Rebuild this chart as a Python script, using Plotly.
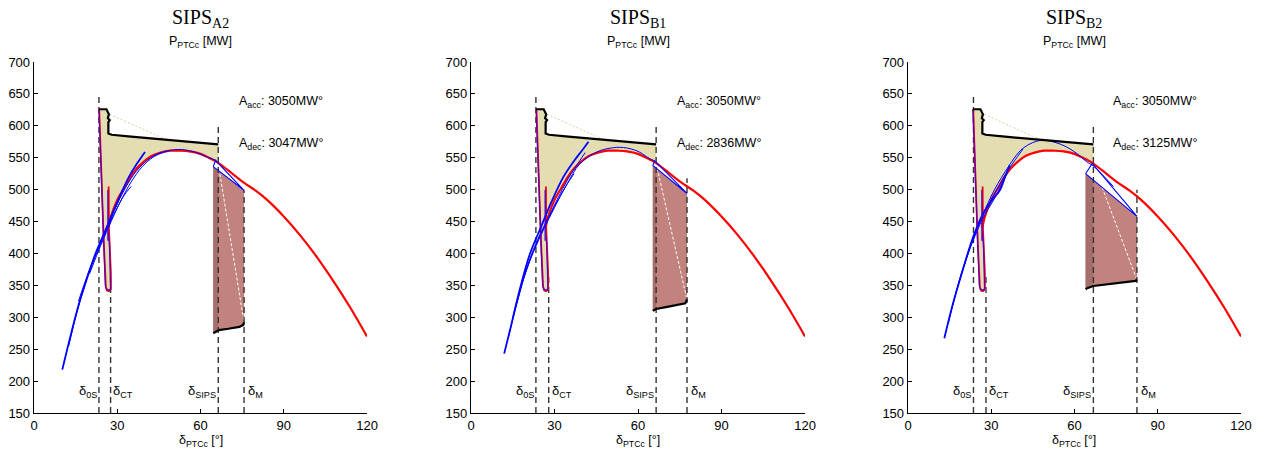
import numpy as np
import plotly.graph_objects as go

# ---------------- data ----------------
X_TICKS = [0, 30, 60, 90, 120]
Y_TICKS = [150, 200, 250, 300, 350, 400, 450, 500, 550, 600, 650, 700]

PANEL_NAMES = ["A2", "B1", "B2"]
A_ACC = [3050, 3050, 3050]
A_DEC = [3047, 2836, 3125]

D_0S = [23.4, 23.3, 23.6]
D_CT = [27.6, 27.9, 28.1]
D_SIPS = [66.4, 66.5, 66.8]
D_M = [75.7, 77.6, 82.5]
TOP_0S = [648, 648, 648]
TOP_CT = [366, 366, 366]
TOP_SIPS = [598, 598, 598]
TOP_M = [499, 518, 500]

# post-fault P-delta curve (same in every panel)
RED_D = [26.8, 27.6, 30, 32.5, 34.8, 37, 39.6, 42.5, 45.6, 49, 52.5, 56, 60, 63,
         66.4, 70, 75.6, 80, 84, 90, 96, 102, 108, 114, 120]
RED_P = [440, 456, 484, 503, 520, 533, 544, 553, 558, 561, 561, 560, 556, 550,
         542, 530, 511, 498, 484, 458, 428, 394, 356, 315, 270]

# fault-on trajectory
FAULT_RED_D = [23.5, 24.3, 25.1, 25.9, 26.3, 27.0, 27.7, 27.7, 27.4, 27.0, 26.9, 26.9, 26.9]
FAULT_RED_P = [626, 520, 420, 348, 342, 341, 344, 370, 410, 440, 505, 470, 440]
FAULT_BLUE_D = [23.4, 24.2, 25.0, 25.7, 26.1, 27.3, 27.6, 27.5, 27.2, 26.7, 26.6, 26.6]
FAULT_BLUE_P = [626, 520, 420, 350, 344, 342, 346, 375, 415, 435, 500, 420]
SLIVER_D = [27.3, 27.6, 27.6, 27.0, 26.2, 25.8, 25.0, 24.2, 23.4]
SLIVER_P = [410, 370, 344, 341, 342, 348, 420, 520, 626]

# mechanical power line (top of accelerating area)
PM_D = [23.4, 26.1, 27.0, 26.6, 27.3, 26.8, 26.8, 28.0, 35, 45, 55]
PM_P = [626, 626, 618, 612, 609, 606, 588, 586, 583, 579, 575]
PM_END = [571, 571, 571]
DOT_START_D = [27.3, 27.3, 27.5]
DOT_START_P = [618, 618, 618]

# decelerating area
BROWN_TOP_D = [[64.6, 75.7], [65.3, 77.6], [64.0, 82.5]]
BROWN_TOP_P = [[536, 499], [538, 494], [525, 458]]
BOTTOM_D = [[64.6, 65.5, 66.6, 70, 74, 75.4, 75.7],
            [65.3, 66.5, 70, 74, 77, 77.6],
            [64.0, 64.8, 66.8, 72, 78, 82, 82.5]]
BOTTOM_P = [[275, 277, 280, 282, 285, 288, 292],
            [310, 313, 316, 319, 322, 328],
            [344, 346, 349, 352, 355, 357, 359]]
WHITE_D = [[66.4, 75.7], [66.5, 77.6], [66.8, 82.3]]
WHITE_P = [[540, 292], [541, 327], [540, 361]]
WEDGE_D = [[64.6, 75.7, 65.4, 64.6], [65.3, 77.6, 66.0, 65.3], [64.0, 82.5, 66.4, 64.0]]
WEDGE_P = [[536, 499, 546, 536], [538, 494, 545, 538], [525, 458, 541, 525]]

# post-fault swings (blue)
BLUE_D = [
    [[10.2, 13, 16, 18.6, 22, 25.8, 30, 34.2, 37, 40],
     [12.5, 15, 19, 23, 27, 31, 35, 39, 43, 47, 52, 57, 62, 65.4],
     [16, 20, 24, 28, 32, 36, 40, 44, 48],
     [20, 24, 28, 32, 35]],
    [[11.9, 14, 17, 21.2, 25, 29, 33.2, 37, 40, 42.2],
     [13.5, 17, 21, 25, 29, 34, 39.2, 45.2, 50, 54.8, 60, 64, 66.0],
     [15, 19, 23, 27, 31, 35, 39, 41],
     [18, 22, 26, 30, 34, 37]],
    [[13.1, 16, 20, 23.5, 27, 30, 33.1, 35, 36.6],
     [14.5, 18, 22, 26, 30, 35, 41.5, 48.1, 53, 57.1, 61, 64.3, 66.8, 74],
     [16, 20, 24, 28, 32, 36, 39.5, 41.5],
     [19, 23, 27, 31, 34.5]],
]
BLUE_P = [
    [[218, 268, 318, 354, 398, 437, 480, 520, 540, 559],
     [255, 300, 360, 405, 445, 480, 512, 536, 551, 559, 563, 560, 552, 546],
     [325, 375, 418, 458, 495, 524, 543, 555, 561],
     [368, 412, 452, 488, 505]],
    [[243, 280, 335, 400, 440, 482, 520, 545, 562, 575],
     [270, 330, 390, 432, 466, 505, 541, 559, 565, 566, 560, 549, 545],
     [300, 362, 410, 448, 485, 518, 545, 558],
     [350, 398, 437, 472, 505, 525]],
    [[267, 318, 378, 426, 462, 482, 499, 520, 538],
     [290, 350, 405, 450, 490, 528, 565, 577.5, 574, 567, 556, 544, 537, 505],
     [318, 378, 430, 468, 500, 530, 552, 564],
     [365, 415, 455, 485, 515]],
]

# ---------------- figure ----------------
YELLOW = "#e3ddb1"
BROWN = "#c2827e"
DARKBROWN = "#a66e6c"
FONT = "Liberation Sans, Arial, sans-serif"

DOMAINS = [[0.0, 0.2759], [0.3621, 0.6388], [0.7241, 1.0]]

fig = go.Figure()
red_d = np.array(RED_D, dtype=float)
red_p = np.array(RED_P, dtype=float)

for i in range(3):
    xa = "x" if i == 0 else f"x{i+1}"
    ya = "y" if i == 0 else f"y{i+1}"
    ds = D_SIPS[i]
    red_at_sips = float(np.interp(ds, red_d, red_p))

    def add(x, y, **kw):
        fig.add_trace(go.Scatter(x=x, y=y, xaxis=xa, yaxis=ya, showlegend=False,
                                 hoverinfo="skip", **kw))

    # yellow accelerating area
    pm_d = PM_D + [ds]
    pm_p = PM_P + [PM_END[i]]
    mask = (red_d >= 26.8) & (red_d < ds)
    poly_d = pm_d + [ds] + list(red_d[mask][::-1]) + SLIVER_D
    poly_p = pm_p + [red_at_sips] + list(red_p[mask][::-1]) + SLIVER_P
    add(poly_d, poly_p, mode="lines", fill="toself", fillcolor=YELLOW,
        line=dict(width=0, color=YELLOW))

    # brown decelerating area
    td, tp = BROWN_TOP_D[i], BROWN_TOP_P[i]
    bd, bp = BOTTOM_D[i], BOTTOM_P[i]
    add(td + bd[::-1] + [td[0]], tp + bp[::-1] + [tp[0]], mode="lines",
        fill="toself", fillcolor=BROWN, line=dict(width=0, color=BROWN))
    top_s = float(np.interp(ds, td, tp))
    bot_s = float(np.interp(ds, bd, bp))
    add([td[0], ds, ds, bd[0], td[0]], [tp[0], top_s, bot_s, bp[0], tp[0]],
        mode="lines", fill="toself", fillcolor=DARKBROWN,
        line=dict(width=0, color=DARKBROWN))

    # white diagonal and light dotted line
    add(WHITE_D[i], WHITE_P[i], mode="lines",
        line=dict(color="white", width=1, dash="3px,2px"))
    add([DOT_START_D[i], ds], [DOT_START_P[i], red_at_sips], mode="lines",
        line=dict(color="#d8cf9c", width=1, dash="2px,2px"))

    # dashed markers of critical angles
    for dv, top in ((D_0S[i], TOP_0S[i]), (D_CT[i], TOP_CT[i]),
                    (D_SIPS[i], TOP_SIPS[i]), (D_M[i], TOP_M[i])):
        add([dv, dv], [150, top], mode="lines",
            line=dict(color="#333333", width=1.4, dash="6px,4px"))

    # red curves
    add(RED_D, RED_P, mode="lines", line=dict(color="#ff0000", width=2.2, shape="spline"))
    add(FAULT_RED_D, FAULT_RED_P, mode="lines", line=dict(color="#ff0000", width=1.8))

    # blue swings
    for k, (bdd, bpp) in enumerate(zip(BLUE_D[i], BLUE_P[i])):
        add(bdd, bpp, mode="lines",
            line=dict(color="#0000ff", width=1.8 if k == 0 else 1.0, shape="spline"))
    add(FAULT_BLUE_D, FAULT_BLUE_P, mode="lines",
        line=dict(color="rgba(60,0,220,0.85)", width=1.3))
    add(WEDGE_D[i], WEDGE_P[i], mode="lines", line=dict(color="#0000ff", width=1.1))

    # black boundary lines
    add(pm_d, pm_p, mode="lines", line=dict(color="black", width=2.2))
    add(bd, bp, mode="lines", line=dict(color="black", width=2.2))

    # axes
    axx = dict(domain=DOMAINS[i], anchor=ya, range=[0, 120], tickvals=X_TICKS,
               ticks="inside", ticklen=4, tickcolor="black", showline=True,
               linecolor="black", linewidth=1.3, showgrid=False, zeroline=False,
               automargin=False,
               tickfont=dict(family=FONT, size=13, color="black"), fixedrange=True)
    axy = dict(domain=[0, 1], anchor=xa, range=[150, 700], tickvals=Y_TICKS,
               ticks="inside", ticklen=4, tickcolor="black", showline=True,
               linecolor="black", linewidth=1.3, showgrid=False, zeroline=False,
               automargin=False,
               tickfont=dict(family=FONT, size=13, color="black"), fixedrange=True)
    key = "" if i == 0 else str(i + 1)
    fig.update_layout(**{f"xaxis{key}": axx, f"yaxis{key}": axy})

    cx = sum(DOMAINS[i]) / 2
    fig.add_annotation(xref="paper", yref="paper", x=cx, y=1.125,
                       xanchor="center", yanchor="middle",
                       text=f"SIPS<sub>{PANEL_NAMES[i]}</sub>", showarrow=False,
                       font=dict(family="Liberation Serif, Times New Roman, serif",
                                 size=20, color="black"))
    fig.add_annotation(xref="paper", yref="paper", x=cx, y=1.058,
                       xanchor="center", yanchor="middle",
                       text="P<sub>PTCc</sub> [MW]", showarrow=False,
                       font=dict(family=FONT, size=12.5, color="black"))
    fig.add_annotation(xref="paper", yref="paper", x=cx, y=-0.08,
                       xanchor="center", yanchor="middle",
                       text="δ<sub>PTCc</sub> [°]", showarrow=False,
                       font=dict(family=FONT, size=12.5, color="black"))
    fig.add_annotation(xref=xa, yref=ya, x=73.3, y=638, xanchor="left",
                       yanchor="middle",
                       text=f"A<sub>acc</sub>: {A_ACC[i]}MW°", showarrow=False,
                       font=dict(family=FONT, size=12.5, color="black"))
    fig.add_annotation(xref=xa, yref=ya, x=73.3, y=572, xanchor="left",
                       yanchor="middle",
                       text=f"A<sub>dec</sub>: {A_DEC[i]}MW°", showarrow=False,
                       font=dict(family=FONT, size=12.5, color="black"))
    for txt, dv, anc in (("δ<sub>0S</sub>", D_0S[i], "right"),
                         ("δ<sub>CT</sub>", D_CT[i] + 0.3, "left"),
                         ("δ<sub>SIPS</sub>", D_SIPS[i], "right"),
                         ("δ<sub>M</sub>", D_M[i] + 0.8, "left")):
        fig.add_annotation(xref=xa, yref=ya, x=dv, y=183, xanchor=anc,
                           yanchor="middle", text=txt, showarrow=False,
                           font=dict(family=FONT, size=13, color="black"))

fig.update_layout(width=1266, height=456, margin=dict(l=34, r=25, t=62, b=43),
                  plot_bgcolor="white", paper_bgcolor="white", showlegend=False)
# remove the page's default body margin so the figure fills the window exactly
fig.write_html("out.html", config={"displayModeBar": False, "staticPlot": True},
               post_script="document.body.style.margin='0px';"
                           "document.body.style.overflow='hidden';")
